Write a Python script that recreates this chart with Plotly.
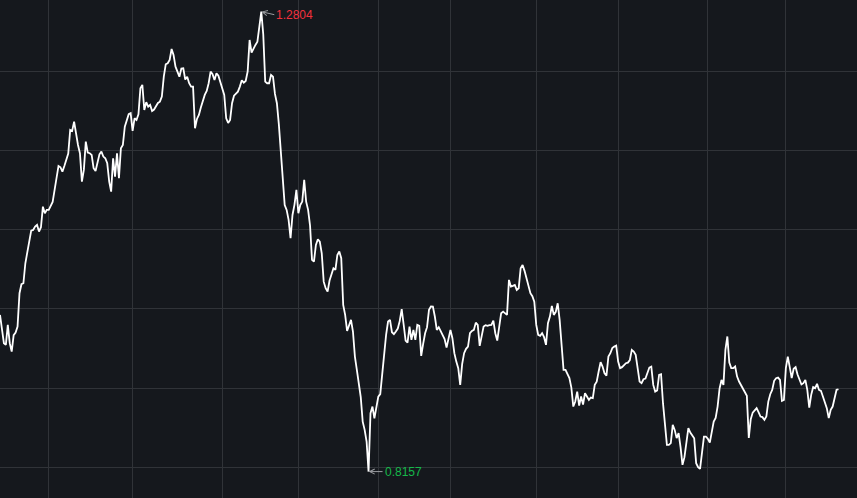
import plotly.graph_objects as go

# Series values (one per period)
values = [
    # segment 1
    0.9740, 0.9605, 0.9454, 0.9437, 0.9639, 0.9454, 0.9369, 0.9535, 0.9561, 0.9622,
    0.9959, 1.0050, 1.0060, 1.0262, 1.0363, 1.0457, 1.0592, 1.0599, 1.0632, 1.0649,
    1.0582, 1.0626, 1.0834, 1.0767, 1.0801, 1.0801, 1.0851, 1.0882, 1.1003, 1.1131,
    1.1245, 1.1232, 1.1188, 1.1245, 1.1299, 1.1370, 1.1609, 1.1599, 1.1693, 1.1548,
    1.1457, 1.1373, 1.1087, 1.1205, 1.1491, 1.1380, 1.1374, 1.1356, 1.1222, 1.1195,
    1.1273, 1.1363, 1.1390, 1.1340, 1.1323, 1.1272, 1.1087, 1.0986, 1.1323, 1.1138,
    1.1373, 1.1121, 1.1424, 1.1457, 1.1642,
    # segment 2
    1.1714, 1.1768, 1.1778, 1.1599, 1.1727, 1.1710, 1.1767, 1.2030, 1.2064, 1.1811,
    1.1889, 1.1844, 1.1862, 1.1801, 1.1815, 1.1844, 1.1882, 1.1895, 1.1946, 1.2147,
    1.2273, 1.2283, 1.2316, 1.2427, 1.2367, 1.2248, 1.2195, 1.2147, 1.2229, 1.2232,
    1.2118, 1.2147, 1.2081, 1.2046, 1.2047, 1.1626, 1.1720, 1.1760, 1.1835, 1.1912,
    1.1963, 1.2003, 1.2081, 1.2198, 1.2172, 1.2114, 1.2182, 1.2157, 1.2097, 1.2046,
    1.1963, 1.1727, 1.1680, 1.1710, 1.1879, 1.1955, 1.1976, 1.1996, 1.2047, 1.2111,
    1.2087, 1.2104, 1.2199, 1.2518,
    # segment 3
    1.2390, 1.2434, 1.2468, 1.2501, 1.2670, 1.2804, 1.2576, 1.2097, 1.2081, 1.2081,
    1.2165, 1.2147, 1.1973, 1.1879, 1.1666, 1.1374, 1.1070, 1.0851, 1.0801, 1.0700,
    1.0515, 1.0750, 1.0852, 1.1003, 1.0767, 1.0851, 1.0885, 1.1104, 1.0885, 1.0801,
    1.0643, 1.0296, 1.0279, 1.0447, 1.0505, 1.0481, 1.0363, 1.0076, 1.0010, 0.9975,
    1.0087, 1.0144, 1.0212, 1.0195, 1.0346, 1.0380, 1.0313, 0.9841, 0.9740, 0.9578,
    0.9639, 0.9690, 0.9572, 0.9319, 0.9185, 0.9033, 0.8909, 0.8662, 0.8579, 0.8461,
    0.8157, 0.8747, 0.8814, 0.8696,
    # segment 4
    0.8831, 0.8915, 0.8939, 0.9151, 0.9360, 0.9538, 0.9673, 0.9690, 0.9565, 0.9545,
    0.9572, 0.9602, 0.9680, 0.9798, 0.9643, 0.9480, 0.9461, 0.9622, 0.9488, 0.9588,
    0.9488, 0.9639, 0.9629, 0.9326, 0.9447, 0.9555, 0.9616, 0.9791, 0.9825, 0.9824,
    0.9724, 0.9588, 0.9616, 0.9571, 0.9525, 0.9495, 0.9410, 0.9505, 0.9589, 0.9505,
    0.9353, 0.9268, 0.9202, 0.9033, 0.9242, 0.9353, 0.9397, 0.9420, 0.9555, 0.9578,
    0.9589, 0.9662, 0.9639, 0.9427, 0.9532, 0.9622, 0.9636, 0.9629, 0.9636, 0.9639,
    0.9683, 0.9555, 0.9481, 0.9606,
    # segment 5
    0.9757, 0.9773, 0.9757, 0.9740, 1.0094, 1.0026, 1.0033, 1.0043, 0.9993, 1.0010,
    1.0212, 1.0245, 1.0185, 1.0111, 1.0043, 0.9959, 0.9929, 0.9874, 0.9639, 0.9538,
    0.9528, 0.9555, 0.9515, 0.9437, 0.9656, 0.9723, 0.9831, 0.9740, 0.9771, 0.9858,
    0.9690, 0.9386, 0.9185, 0.9184, 0.9144, 0.9101, 0.9006, 0.8814, 0.8865, 0.8965,
    0.8824, 0.8915, 0.8835, 0.8949, 0.8915, 0.8881, 0.8905, 0.8899, 0.9033, 0.9066,
    0.9168, 0.9262, 0.9218, 0.9151, 0.9127, 0.9319, 0.9353, 0.9404, 0.9420, 0.9430,
    0.9269, 0.9202, 0.9212, 0.9235,
    # segment 6
    0.9252, 0.9258, 0.9283, 0.9386, 0.9370, 0.9336, 0.9208, 0.9066, 0.9050, 0.9090,
    0.9097, 0.9151, 0.9208, 0.9218, 0.9033, 0.8965, 0.8976, 0.9134, 0.9141, 0.8848,
    0.8596, 0.8427, 0.8427, 0.8444, 0.8629, 0.8578, 0.8495, 0.8545, 0.8404, 0.8225,
    0.8303, 0.8460, 0.8596, 0.8551, 0.8528, 0.8494, 0.8242, 0.8202, 0.8185, 0.8343,
    0.8511, 0.8511, 0.8488, 0.8450, 0.8555, 0.8662, 0.8700, 0.8814, 0.8996, 0.9083,
    0.9033, 0.9387, 0.9522, 0.9258, 0.9202, 0.9202, 0.9219, 0.9117, 0.9067, 0.9033,
    0.8993, 0.8965, 0.8922, 0.8497,
    # segment 7
    0.8687, 0.8753, 0.8774, 0.8798, 0.8757, 0.8713, 0.8707, 0.8679, 0.8713, 0.8864,
    0.8939, 0.8982, 0.9074, 0.9101, 0.9107, 0.9083, 0.8872, 0.8881, 0.9202, 0.9319,
    0.9212, 0.9101, 0.9195, 0.9212, 0.9138, 0.9083, 0.9037, 0.9050, 0.9084, 0.8982,
    0.8804, 0.8932, 0.9010, 0.9000, 0.9043, 0.8982, 0.8973, 0.8915, 0.8855, 0.8798,
    0.8697, 0.8781, 0.8814, 0.8899, 0.8983, 0.8989,
]
period_index = list(range(len(values)))

# period index at each month boundary (vertical grid lines)
month_starts = [25, 68, 114, 153, 194, 231, 275, 317, 363, 403]

BG = "#15181d"
GRID = "#303338"
UP_RED = "#f2303c"
DOWN_GREEN = "#16b84a"

i_max = max(period_index, key=lambda i: values[i])
i_min = min(period_index, key=lambda i: values[i])

fig = go.Figure()
fig.add_trace(go.Scatter(
    x=period_index, y=values, mode="lines",
    line=dict(color="#ffffff", width=1.8),
    hoverinfo="y", showlegend=False,
))

fig.add_annotation(
    x=i_max, y=values[i_max], text=f"{values[i_max]:.4f}",
    showarrow=True, arrowhead=5, arrowsize=1, arrowwidth=1, arrowcolor="#9a9ca0",
    ax=13, ay=3, xanchor="left", yanchor="middle",
    font=dict(color=UP_RED, size=12, family="Liberation Sans, Arial, sans-serif"),
)
fig.add_annotation(
    x=i_min, y=values[i_min], text=f"{values[i_min]:.4f}",
    showarrow=True, arrowhead=5, arrowsize=1, arrowwidth=1, arrowcolor="#9a9ca0",
    ax=14, ay=0, xanchor="left", yanchor="middle",
    font=dict(color=DOWN_GREEN, size=12, family="Liberation Sans, Arial, sans-serif"),
)

fig.update_layout(
    width=857, height=498,
    margin=dict(l=0, r=0, t=0, b=0),
    paper_bgcolor=BG, plot_bgcolor=BG,
    hovermode=False,
    xaxis=dict(range=[0, 857 / 1.95], tickmode="array", tickvals=month_starts,
               showticklabels=False, showgrid=True, gridcolor=GRID, gridwidth=1,
               zeroline=False, showline=False, ticks="", fixedrange=True),
    yaxis=dict(range=[0.789, 1.2922], tick0=0.82, dtick=0.08,
               showticklabels=False, showgrid=True, gridcolor=GRID, gridwidth=1,
               zeroline=False, showline=False, ticks="", fixedrange=True),
)

fig.write_html(
    "out.html",
    config={"displayModeBar": False},
    post_script="document.body.style.margin='0';document.body.style.background='" + BG + "';",
)
